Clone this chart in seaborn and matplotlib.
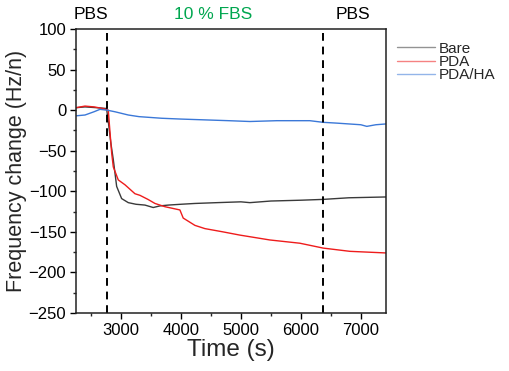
import numpy as np
import pandas as pd
import matplotlib
matplotlib.use("Agg")
import matplotlib.pyplot as plt
import seaborn as sns
from matplotlib.ticker import MultipleLocator

# values (time in s, frequency change in Hz/n)
bare_t = [2250, 2400, 2600, 2760, 2790, 2830, 2872, 2928, 3011, 3122, 3250, 3400, 3538, 3650, 3788,
          4000, 4233, 4600, 5000, 5150, 5500, 6000, 6370, 6800, 7420]
bare_f = [3, 4, 3, 2, -15, -40, -61, -94, -109, -114, -116, -117, -120, -118, -117,
          -116, -115, -114, -113, -114, -112, -111, -110, -108, -107]

pda_t = [2250, 2400, 2550, 2700, 2788, 2820, 2845, 2872, 2955, 3067, 3233, 3317, 3450, 3567, 3733,
         3983, 4038, 4233, 4400, 4700, 4983, 5317, 5483, 5983, 6372, 6817, 7420]
pda_f = [3, 5, 4, 2, 0, -30, -53, -70, -86, -92, -103, -105, -110, -115, -119,
         -123, -133, -142, -146, -150, -154, -158, -160, -164, -170, -174, -176]

ha_t = [2250, 2400, 2550, 2650, 2767, 2900, 3122, 3300, 3678, 4000, 4400, 4800, 5150, 5600, 6150,
        6370, 6600, 6800, 7000, 7100, 7250, 7420]
ha_f = [-7, -6, -2, 1, 0, -2, -6, -8, -10, -11, -12, -13, -14, -13, -13,
        -15, -16, -17, -18, -20, -18, -17]

series_names = ["Bare", "PDA", "PDA/HA"]
series_colors = ["#3a3a3a", "#ee1c1c", "#3b78d8"]
stage_marks = [2767, 6370]
stage_labels = ["PBS", "10 % FBS", "PBS"]
stage_label_x = [2500, 4530, 6870]
stage_label_colors = ["black", "#00a64f", "black"]

df = pd.concat([
    pd.DataFrame({"Time": bare_t, "Freq": bare_f, "Sample": "Bare"}),
    pd.DataFrame({"Time": pda_t, "Freq": pda_f, "Sample": "PDA"}),
    pd.DataFrame({"Time": ha_t, "Freq": ha_f, "Sample": "PDA/HA"}),
])

sns.set_style("ticks")
plt.rcParams["font.family"] = ["Liberation Sans", "DejaVu Sans"]

fig = plt.figure(figsize=(5.10, 3.71), dpi=100)
ax = fig.add_axes([76 / 510, 1 - 313 / 371, 310 / 510, 284 / 371])

sns.lineplot(data=df, x="Time", y="Freq", hue="Sample", hue_order=series_names,
             palette=series_colors, linewidth=1.0, ax=ax)

for xm in stage_marks:
    ax.axvline(xm, color="black", linestyle=(0, (4, 3)), linewidth=1.4)

ax.set_xlim(2250, 7420)
ax.set_ylim(-250, 100)
ax.xaxis.set_major_locator(MultipleLocator(1000))
ax.xaxis.set_minor_locator(MultipleLocator(500))
ax.yaxis.set_major_locator(MultipleLocator(50))
ax.yaxis.set_minor_locator(MultipleLocator(25))
ax.tick_params(axis="both", which="major", labelsize=12, length=4, width=1, direction="out",
               top=False, right=False, pad=3, colors="black")
ax.tick_params(axis="both", which="minor", length=2.5, width=1, top=False, right=False)
for s in ax.spines.values():
    s.set_linewidth(1.1)
    s.set_color("#222222")

ax.set_xlabel("Time (s)", fontsize=17.5, labelpad=1)
ax.set_ylabel("Frequency change (Hz/n)", fontsize=15.5, labelpad=1)

# stage labels above the axes
for lx, lt, lc in zip(stage_label_x, stage_labels, stage_label_colors):
    ax.text(lx, 1.025, lt, transform=ax.get_xaxis_transform(), ha="center", va="bottom",
            fontsize=12.5, color=lc)

leg = ax.legend(loc="upper left", bbox_to_anchor=(1.035, 0.955), frameon=False, fontsize=11,
                handlelength=2.5, handletextpad=0.25, labelspacing=-0.05, borderaxespad=0,
                borderpad=0)
for h in leg.get_lines():
    h.set_linewidth(1.0)
    h.set_alpha(0.55)

fig.savefig("out.png", dpi=100)
